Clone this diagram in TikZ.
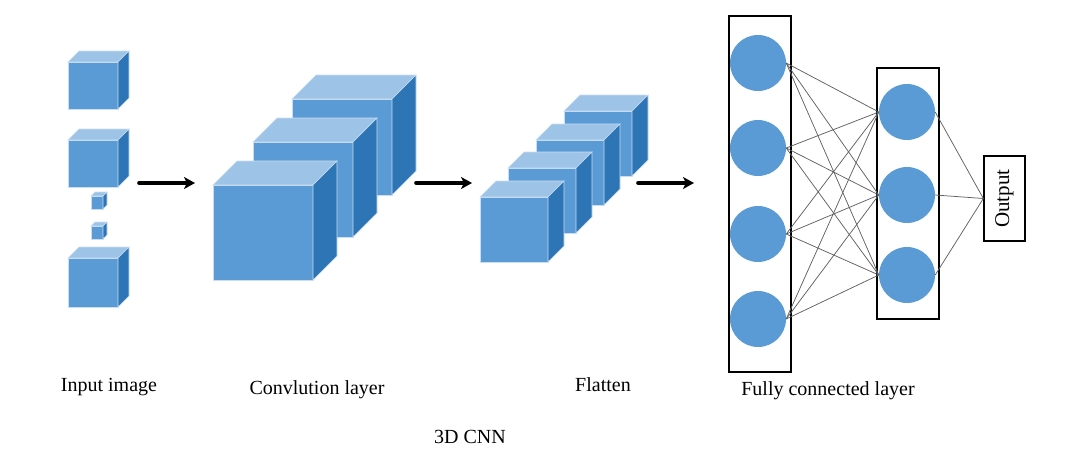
\documentclass[tikz,border=0pt]{standalone}
\usepackage{fontspec}
\setmainfont{Liberation Serif}
\usetikzlibrary{arrows.meta}
\definecolor{cubefront}{RGB}{91,155,213}
\definecolor{cubetop}{RGB}{157,195,230}
\definecolor{cubeside}{RGB}{46,117,182}
\definecolor{cubeedge}{RGB}{200,222,242}
% #1,#2: top left corner of front face, #3 width, #4 height, #5 depth
\newcommand{\drawcube}[5]{
	\fill[cubefront,draw=cubeedge,line width=0.6pt] (#1,#2) rectangle ++(#3,#4);
	\fill[cubetop,draw=cubeedge,line width=0.6pt] (#1,#2) -- ++(#5,-#5) -- ++(#3,0) -- ++(-#5,#5) -- cycle;
	\fill[cubeside,draw=cubeedge,line width=0.6pt] (#1+#3,#2) -- ++(#5,-#5) -- ++(0,#4) -- ++(-#5,#5) -- cycle;
}
\tikzset{
	neuron/.style={circle,fill=cubefront,minimum size=56pt,inner sep=0pt},
	layerbox/.style={draw=black,line width=1.5pt,inner sep=0pt},
	link/.style={draw=black!62,line width=0.75pt},
	flow/.style={-{Stealth[length=11pt,width=12pt,inset=3pt]},line width=3.6pt,line cap=round},
	caption/.style={font=\fontsize{20}{24}\selectfont}
}
\begin{document}
\begin{tikzpicture}[x=1pt,y=-1pt]
	\useasboundingbox (0,0) rectangle (1090,453);

	% input image
	\drawcube{68}{62}{50}{47}{11}
	\drawcube{68}{140}{50}{47}{11}
	\drawcube{91}{196}{12}{13}{4}
	\drawcube{91}{226}{12}{13}{4}
	\drawcube{68}{258}{50}{49}{11}

	% convolution layer
	\drawcube{292}{99}{100}{96}{24}
	\drawcube{253}{142}{100}{95}{24}
	\drawcube{213}{185}{100}{95}{24}

	% flatten
	\drawcube{564}{111}{68}{65}{16}
	\drawcube{536}{140}{68}{65}{16}
	\drawcube{508}{168}{68}{65}{16}
	\drawcube{480}{197}{68}{65}{16}

	\coordinate (in-out) at (139,183);
	\coordinate (conv-in) at (195,183);
	\coordinate (conv-out) at (416,183);
	\coordinate (flat-in) at (472,183);
	\coordinate (flat-out) at (638,183);
	\coordinate (fc-in) at (694,183);
	\draw[flow] (in-out) -- (conv-in);
	\draw[flow] (conv-out) -- (flat-in);
	\draw[flow] (flat-out) -- (fc-in);

	% fully connected layer
	\node[layerbox,minimum width=62pt,minimum height=356pt] (box1) at (760,194) {};
	\node[layerbox,minimum width=62pt,minimum height=251pt] (box2) at (908,193.5) {};
	\foreach \i/\y in {1/63,2/148,3/234,4/319}
		\node[neuron] (a\i) at (758,\y) {};
	\foreach \j/\y in {1/112,2/195,3/275}
		\node[neuron] (b\j) at (907,\y) {};
	\node[layerbox,line width=1.3pt,minimum width=41pt,minimum height=85pt] (out) at (1004.5,198.5) {};
	\node[rotate=90,font=\fontsize{21}{24}\selectfont] (outtext) at (out.center) {Output};

	\foreach \i in {1,...,4}
		\foreach \j in {1,2,3}
			\draw[link] (a\i.east) -- (b\j.west);
	\foreach \j in {1,2,3}
		\draw[link] (b\j.east) -- (out.west);

	% captions
	\node[caption] (cap-in) at (109,387) {Input image};
	\node[caption] (cap-conv) at (317,390) {Convlution layer};
	\node[caption] (cap-flat) at (603,385) {Flatten};
	\node[caption] (cap-fc) at (828,391) {Fully connected layer};
	\node[caption] (cap-title) at (470,437) {3D CNN};
\end{tikzpicture}
\end{document}
